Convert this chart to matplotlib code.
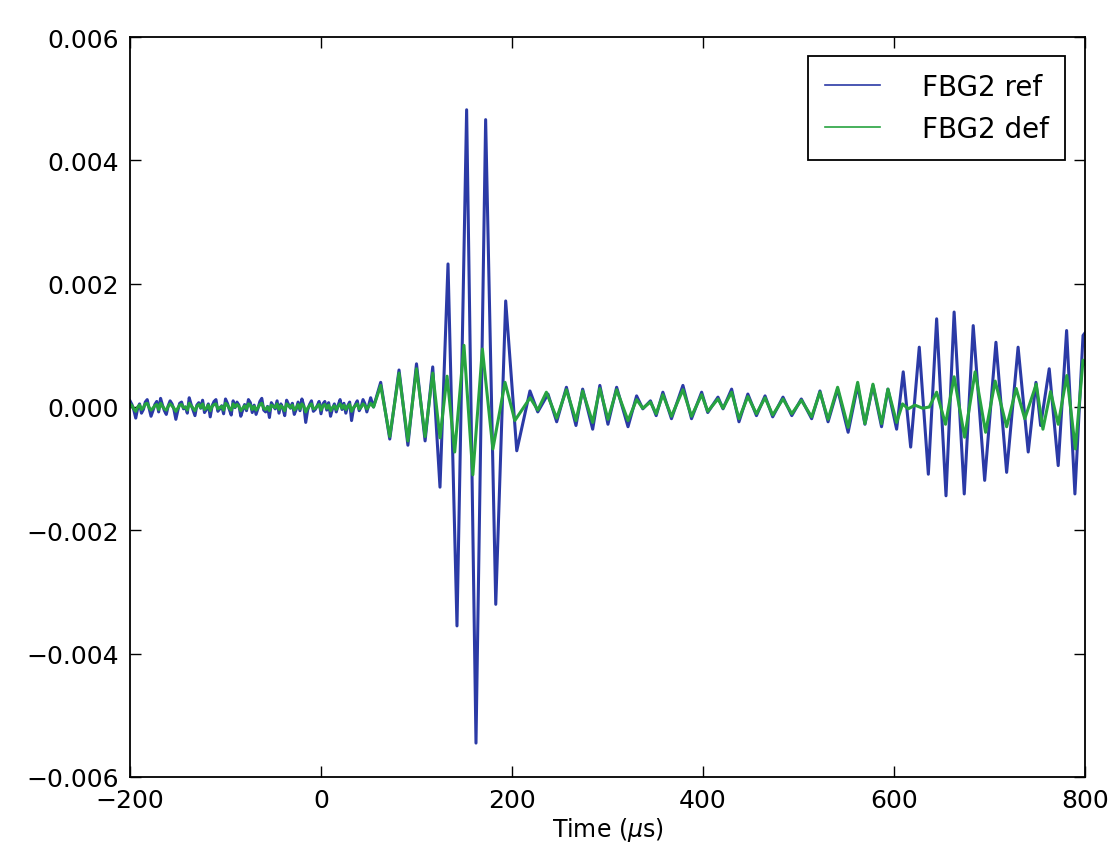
import numpy as np
import matplotlib
matplotlib.use("Agg")
import matplotlib.pyplot as plt

SCALE = 1e-3

# ---- pre-trigger noise (values in 1e-3), sampled from -200 to 52 us
ref_noise = [0.10, 0.04, -0.05, -0.18, -0.02, 0.05, -0.10, -0.04, 0.08, 0.12,
             -0.02, -0.15, -0.06, 0.04, 0.09, -0.08, 0.14, 0.03, -0.06, -0.12,
             0.02, 0.10, 0.05, -0.04, -0.20, -0.06, 0.06, 0.08, -0.03, 0.00,
             -0.10, 0.15, 0.04, -0.05, -0.14, 0.03, 0.07, -0.02, 0.11, -0.09,
             -0.04, 0.05, -0.16, 0.02, 0.09, 0.12, -0.07, -0.03, 0.02, -0.11,
             0.13, 0.06, -0.04, -0.13, 0.10, -0.01, 0.08, 0.03, -0.15, -0.05,
             0.04, -0.06, 0.12, 0.07, -0.09, 0.03, -0.12, -0.02, 0.09, 0.14,
             -0.05, -0.08, 0.01, -0.17, 0.07, 0.02, -0.03, 0.10, -0.10, 0.05,
             -0.02, -0.14, 0.11, 0.04, -0.02, 0.06, -0.12, -0.04, 0.08, -0.06,
             0.13, 0.02, -0.25, -0.05, 0.04, 0.10, -0.07, -0.04, 0.02, 0.09,
             -0.11, 0.05, 0.09, -0.05, 0.07, -0.15, -0.03, 0.05, -0.08, 0.03,
             0.12, -0.04, 0.06, -0.10, 0.02, 0.08, -0.22, -0.03, 0.04, 0.10,
             -0.06, 0.00, 0.12, 0.05, -0.08, 0.03, 0.15]
def_noise = [0.05, 0.02, -0.03, -0.07, 0.00, 0.03, -0.04, -0.01, 0.05, 0.06,
             -0.01, -0.05, -0.02, 0.02, 0.04, -0.04, 0.06, 0.01, -0.03, -0.05,
             0.01, 0.05, 0.02, -0.02, -0.07, -0.02, 0.03, 0.04, -0.01, 0.00,
             -0.05, 0.06, 0.02, -0.02, -0.06, 0.01, 0.04, -0.01, 0.05, -0.04,
             -0.02, 0.03, -0.06, 0.01, 0.04, 0.05, -0.03, -0.01, 0.01, -0.05,
             0.06, 0.03, -0.02, -0.05, 0.05, 0.00, 0.04, 0.01, -0.06, -0.02,
             0.02, -0.03, 0.05, 0.03, -0.04, 0.01, -0.05, -0.01, 0.04, 0.06,
             -0.02, -0.04, 0.00, -0.06, 0.03, 0.01, -0.01, 0.05, -0.04, 0.02,
             -0.01, -0.06, 0.05, 0.02, -0.01, 0.03, -0.05, -0.02, 0.04, -0.03,
             0.05, 0.01, -0.08, -0.02, 0.02, 0.05, -0.03, -0.02, 0.01, 0.04,
             -0.05, 0.02, 0.04, -0.02, 0.03, -0.06, -0.01, 0.02, -0.04, 0.01,
             0.05, -0.02, 0.03, -0.04, 0.01, 0.04, -0.07, -0.01, 0.02, 0.05,
             -0.03, 0.00, 0.05, 0.02, -0.03, 0.01, 0.06]

# ---- FBG2 ref: extrema (time us, value 1e-3) after trigger
ref_t = [55, 62.5, 72, 81.7, 91, 100, 109, 117, 124.6, 133, 142.4, 152.5, 162.3,
         172.4, 183, 193.4, 205, 218.8, 227, 237.7, 246.8, 257, 267, 274, 284.5,
         292, 300.5, 309.6, 321.5, 330.5, 337, 345, 351, 358, 367, 379, 388,
         398.6, 405, 415.7, 421, 430, 437.7, 447, 456, 465, 473, 483.8, 493,
         503, 513.8, 522.5, 531, 541, 552, 562, 569.6, 578, 587, 593.7, 602.8,
         609.7, 617.5, 626.5, 636, 644.7, 654.5, 663, 673.6, 683, 695, 706.8,
         718, 730, 740.6, 748.7, 753.6, 762.6, 772, 780.8, 789.5, 798, 800]
ref_v = [0.0, 0.40, -0.52, 0.60, -0.62, 0.70, -0.55, 0.65, -1.30, 2.32, -3.55,
         4.82, -5.45, 4.66, -3.20, 1.72, -0.71, 0.26, -0.08, 0.21, -0.24, 0.32,
         -0.30, 0.29, -0.36, 0.35, -0.28, 0.32, -0.32, 0.18, -0.03, 0.10, -0.14,
         0.24, -0.19, 0.35, -0.19, 0.24, -0.09, 0.16, -0.03, 0.29, -0.24, 0.21,
         -0.14, 0.18, -0.16, 0.16, -0.14, 0.13, -0.19, 0.26, -0.24, 0.29, -0.41,
         0.35, -0.28, 0.35, -0.32, 0.29, -0.36, 0.57, -0.65, 0.97, -1.09, 1.43,
         -1.44, 1.54, -1.41, 1.32, -1.19, 1.05, -1.06, 0.97, -0.73, 0.40, -0.30,
         0.62, -0.95, 1.24, -1.41, 1.16, 1.20]

# ---- FBG2 def: extrema (time us, value 1e-3) after trigger
def_t = [55, 62.5, 72, 81.7, 91, 100, 109, 117, 124.6, 132, 140, 149.7, 159,
         169, 180, 192.7, 203, 219, 227, 236, 246.8, 257, 267, 274, 284.5, 292,
         300.5, 309.6, 321.5, 330.5, 337, 345, 351, 358, 367, 379, 388, 398.6,
         405, 415.7, 421, 430, 437.7, 447, 456, 465, 473, 483.8, 493, 503,
         513.8, 522.5, 531, 541, 552, 562, 569.6, 578, 587, 593.7, 602.8, 609,
         615, 622, 630, 637, 644.7, 654, 663, 674, 685, 696, 706, 718, 728, 737,
         749, 756, 764, 772, 781, 790, 798, 800]
def_v = [0.0, 0.35, -0.48, 0.55, -0.55, 0.62, -0.48, 0.55, -0.50, 0.50, -0.73,
         1.00, -1.10, 0.94, -0.68, 0.40, -0.22, 0.15, -0.05, 0.24, -0.18, 0.28,
         -0.22, 0.26, -0.25, 0.30, -0.20, 0.28, -0.22, 0.12, -0.02, 0.08, -0.11,
         0.20, -0.15, 0.28, -0.15, 0.20, -0.07, 0.13, -0.02, 0.24, -0.19, 0.17,
         -0.11, 0.15, -0.13, 0.13, -0.11, 0.11, -0.16, 0.24, -0.20, 0.32, -0.33,
         0.40, -0.27, 0.37, -0.27, 0.29, -0.25, 0.05, -0.03, 0.03, -0.02, 0.00,
         0.24, -0.28, 0.49, -0.49, 0.57, -0.41, 0.42, -0.32, 0.30, -0.19, 0.37,
         -0.36, 0.25, -0.28, 0.51, -0.68, 0.76, 0.70]

x_ticks = [-200, 0, 200, 400, 600, 800]
y_ticks = [-0.006, -0.004, -0.002, 0.000, 0.002, 0.004, 0.006]
y_ticklabels = ["\u22120.006", "\u22120.004", "\u22120.002", "0.000", "0.002", "0.004", "0.006"]
x_ticklabels = ["\u2212200", "0", "200", "400", "600", "800"]

noise_t = np.linspace(-200, 52, len(ref_noise))

t_ref = np.concatenate([noise_t, ref_t])
v_ref = np.concatenate([ref_noise, ref_v]) * SCALE
t_def = np.concatenate([noise_t, def_t])
v_def = np.concatenate([def_noise, def_v]) * SCALE

plt.rcParams['font.family'] = ['DejaVu Sans']
fig = plt.figure(figsize=(11.17, 8.54), dpi=100)
ax = fig.add_axes([0.1164, 0.0890, 0.8549, 0.8665])

ax.plot(t_ref, v_ref, color='#2b3aa6', lw=2.2, label='FBG2 ref', solid_joinstyle='round')
ax.plot(t_def, v_def, color='#27a340', lw=2.2, label='FBG2 def', solid_joinstyle='round')

ax.set_xlim(-200, 800)
ax.set_ylim(-0.006, 0.006)
ax.set_xticks(x_ticks)
ax.set_xticklabels(x_ticklabels)
ax.set_yticks(y_ticks)
ax.set_yticklabels(y_ticklabels)
ax.tick_params(direction='in', top=True, right=True, length=8, width=1,
               labelsize=18, pad=8)
for s in ax.spines.values():
    s.set_linewidth(1.3)
ax.set_xlabel('Time ($\\mu$s)', fontsize=17, labelpad=2)

leg = ax.legend(loc='upper right', fontsize=20, fancybox=False, framealpha=1,
                edgecolor='black', borderpad=0.6, handlelength=2.0,
                handletextpad=1.5, borderaxespad=0.7, labelspacing=0.5)
leg.get_frame().set_linewidth(1.3)
for line in leg.get_lines():
    line.set_linewidth(1.2)

fig.savefig('out.png', dpi=100, facecolor='white')
